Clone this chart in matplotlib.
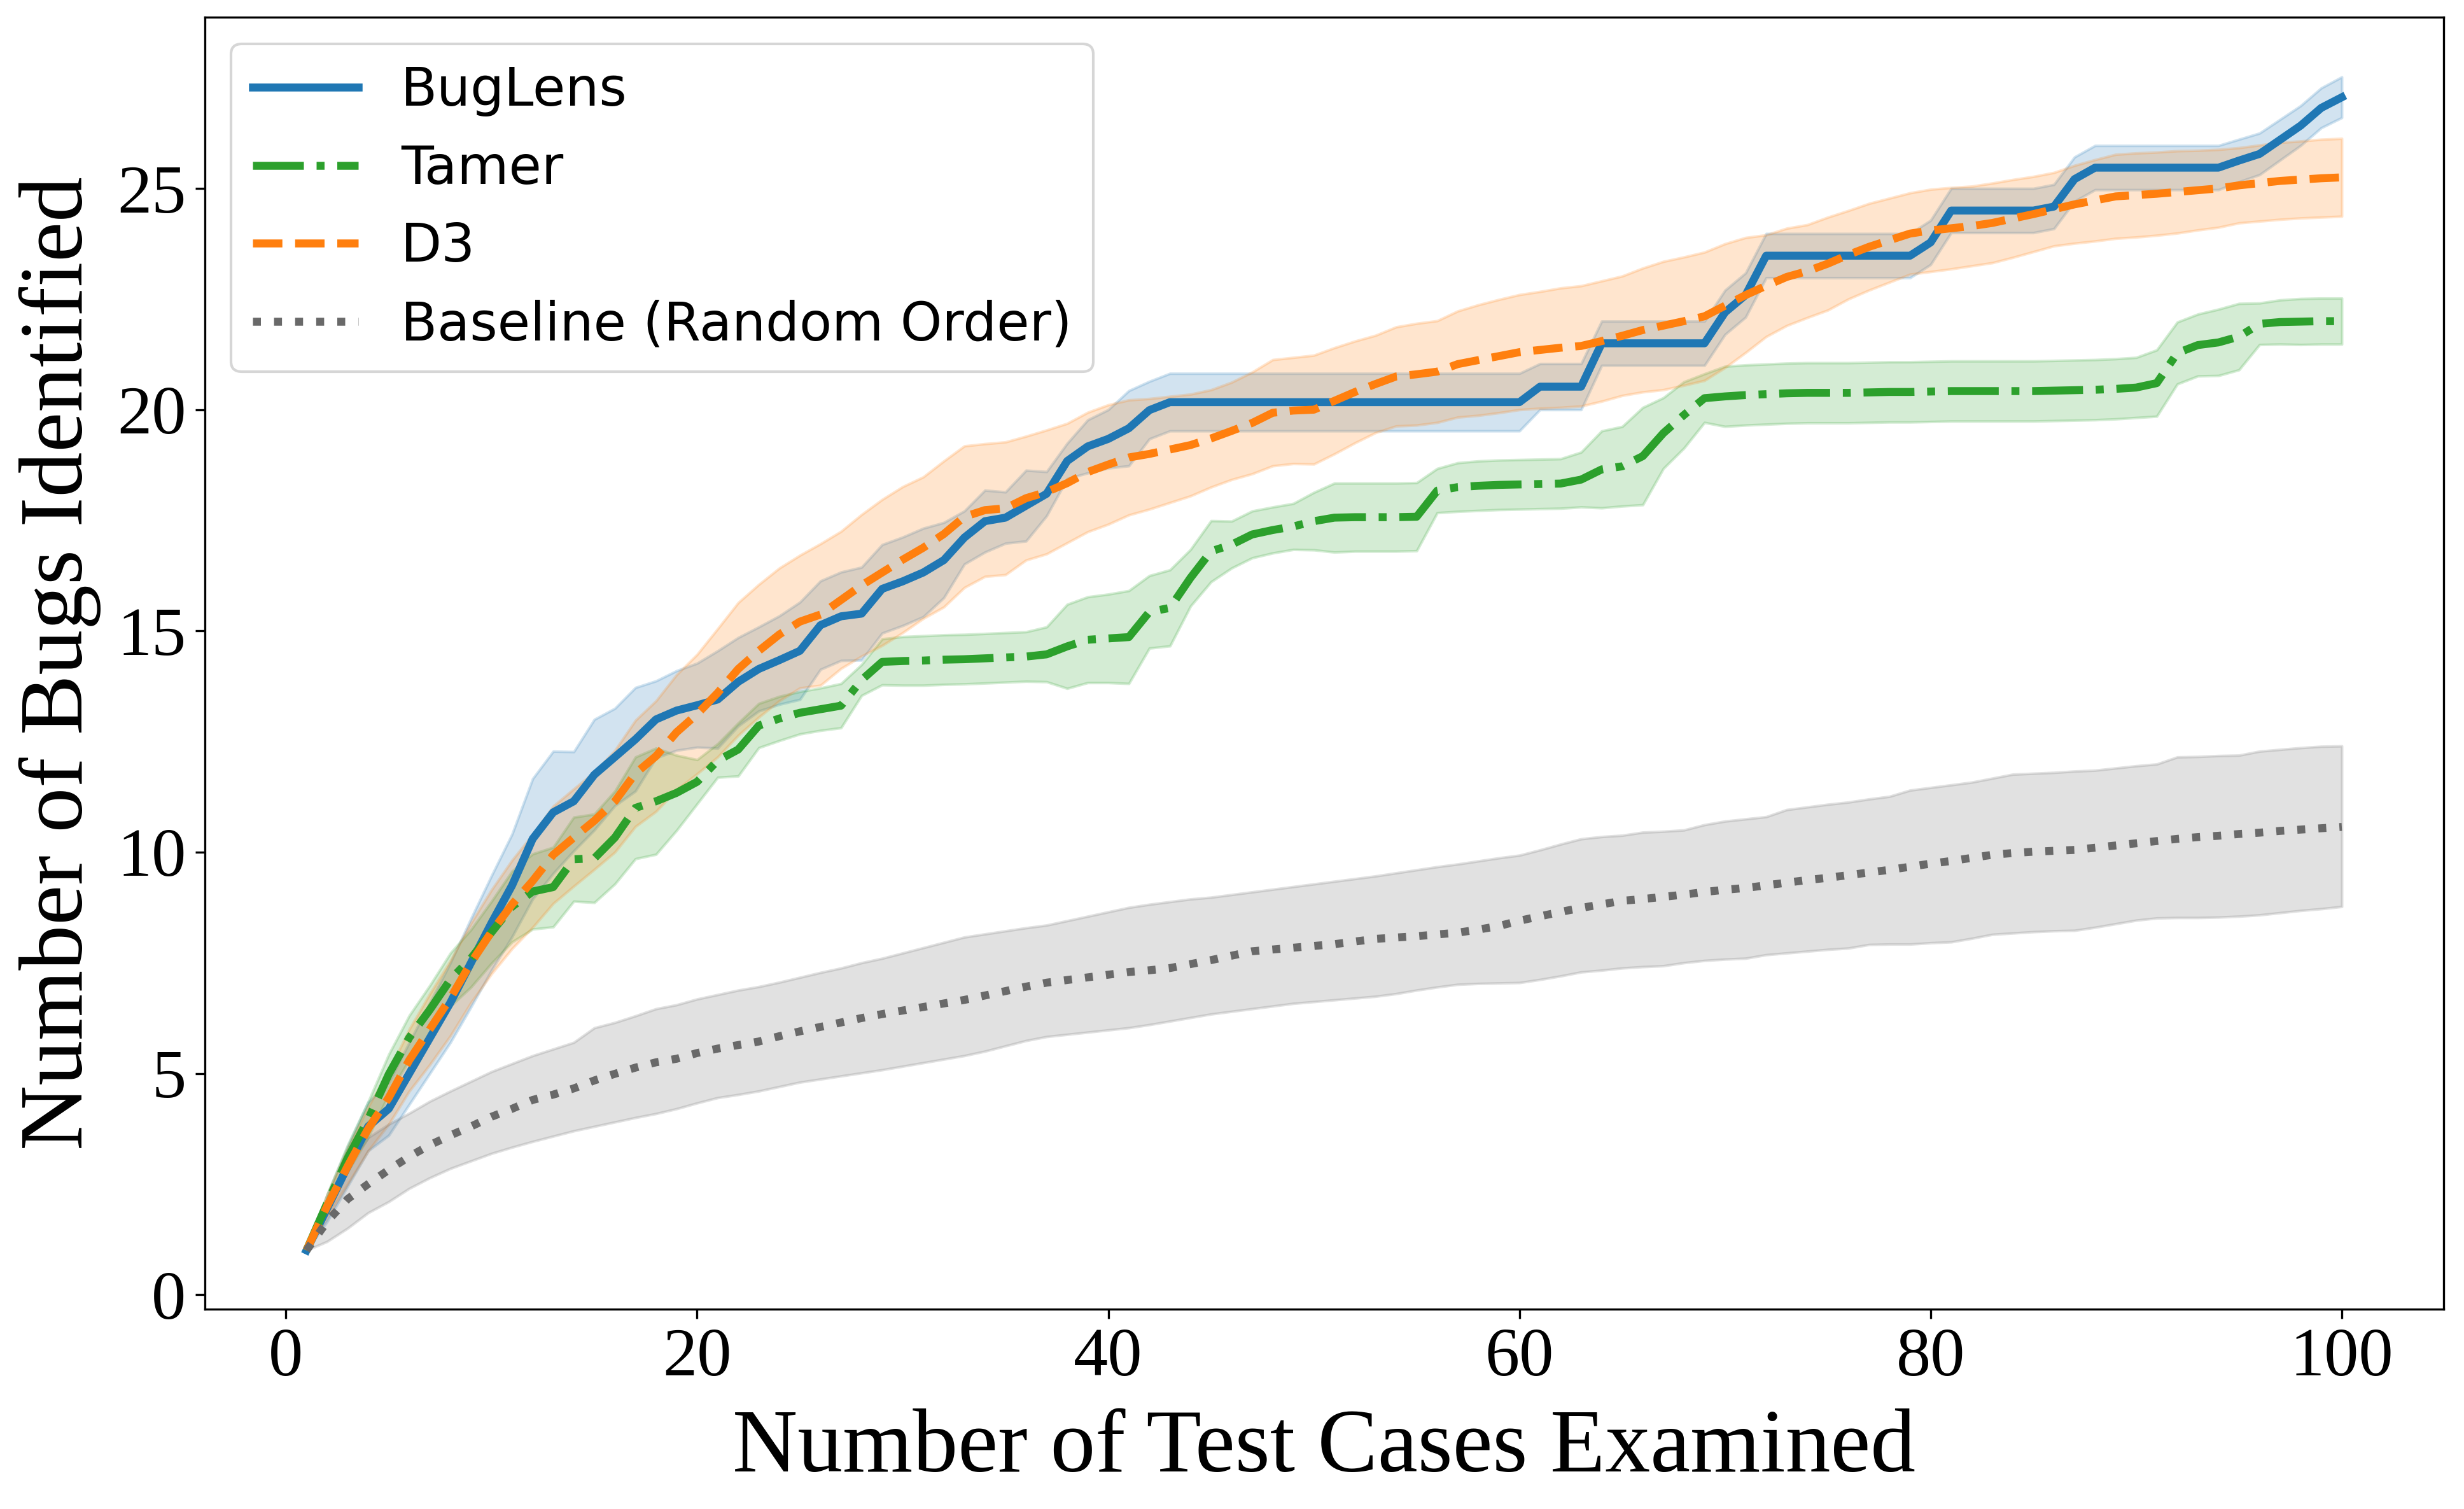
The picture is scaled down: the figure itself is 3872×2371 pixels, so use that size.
import numpy as np
import matplotlib
matplotlib.use("Agg")
import matplotlib.pyplot as plt

# test cases examined
steps = np.arange(1, 101)

# BugLens (mean / std)
buglens = [1.0, 1.95, 2.9, 3.8, 4.2, 5.0, 5.8, 6.6, 7.5, 8.4,
           9.25, 10.3, 10.9, 11.15, 11.75, 12.15, 12.55, 13.0, 13.2, 13.32,
           13.45, 13.85, 14.14, 14.34, 14.55, 15.13, 15.33, 15.39, 15.95, 16.12,
           16.32, 16.6, 17.11, 17.48, 17.56, 17.83, 18.1, 18.84, 19.17, 19.34,
           19.58, 19.99, 20.17, 20.17, 20.17, 20.17, 20.17, 20.17, 20.17, 20.17,
           20.17, 20.17, 20.17, 20.17, 20.17, 20.17, 20.17, 20.17, 20.17, 20.17,
           20.52, 20.52, 20.52, 21.5, 21.5, 21.5, 21.5, 21.5, 21.5, 22.2,
           22.59, 23.48, 23.48, 23.48, 23.48, 23.48, 23.48, 23.48, 23.48, 23.78,
           24.5, 24.5, 24.5, 24.5, 24.5, 24.59, 25.21, 25.47, 25.47, 25.47,
           25.47, 25.47, 25.47, 25.47, 25.63, 25.78, 26.1, 26.42, 26.82, 27.06]
buglens_std = [0.0, 0.3, 0.45, 0.55, 0.6, 0.7, 0.8, 0.9, 1.0, 1.07,
               1.16, 1.36, 1.38, 1.12, 1.25, 1.1, 1.17, 0.87, 0.9, 0.95,
               1.1, 1.0, 0.95, 1.0, 1.1, 1.0, 1.0, 1.05, 1.0, 1.0,
               1.0, 0.85, 0.6, 0.7, 0.58, 0.8, 0.5, 0.4, 0.6, 0.66,
               0.85, 0.65, 0.65, 0.65, 0.65, 0.65, 0.65, 0.65, 0.65, 0.65,
               0.65, 0.65, 0.65, 0.65, 0.65, 0.65, 0.65, 0.65, 0.65, 0.65,
               0.52, 0.52, 0.52, 0.5, 0.5, 0.5, 0.5, 0.5, 0.5, 0.5,
               0.5, 0.5, 0.5, 0.5, 0.5, 0.5, 0.5, 0.5, 0.5, 0.5,
               0.5, 0.5, 0.5, 0.5, 0.5, 0.5, 0.5, 0.5, 0.5, 0.5,
               0.5, 0.5, 0.5, 0.5, 0.48, 0.47, 0.46, 0.45, 0.45, 0.46]

# Tamer
tamer = [1.0, 2.06, 3.08, 3.96, 4.98, 5.81, 6.44, 7.12, 7.6, 8.19,
         8.77, 9.11, 9.21, 9.84, 9.86, 10.33, 11.0, 11.15, 11.34, 11.59,
         12.07, 12.32, 12.86, 13.02, 13.15, 13.23, 13.31, 13.89, 14.3, 14.32,
         14.33, 14.35, 14.36, 14.38, 14.4, 14.42, 14.47, 14.65, 14.8, 14.83,
         14.86, 15.43, 15.52, 16.2, 16.8, 16.95, 17.18, 17.28, 17.36, 17.48,
         17.56, 17.57, 17.57, 17.57, 17.58, 18.17, 18.25, 18.28, 18.3, 18.31,
         18.32, 18.33, 18.42, 18.65, 18.72, 18.95, 19.47, 19.88, 20.26, 20.3,
         20.33, 20.35, 20.37, 20.38, 20.38, 20.38, 20.39, 20.4, 20.4, 20.41,
         20.42, 20.42, 20.42, 20.42, 20.42, 20.43, 20.44, 20.45, 20.47, 20.5,
         20.6, 21.28, 21.46, 21.52, 21.65, 21.94, 21.98, 21.99, 22.0, 22.0]
tamer_std = [0.0, 0.2, 0.3, 0.4, 0.45, 0.5, 0.55, 0.6, 0.65, 0.7,
             0.8, 0.85, 0.9, 0.95, 1.0, 1.05, 1.15, 1.2, 0.85, 0.5,
             0.38, 0.6, 0.5, 0.5, 0.48, 0.48, 0.5, 0.35, 0.52, 0.55,
             0.56, 0.56, 0.56, 0.56, 0.56, 0.56, 0.62, 0.95, 0.97, 1.0,
             1.05, 0.82, 0.86, 0.64, 0.69, 0.53, 0.53, 0.52, 0.52, 0.65,
             0.78, 0.77, 0.77, 0.77, 0.77, 0.5, 0.55, 0.56, 0.56, 0.56,
             0.56, 0.56, 0.62, 0.87, 0.9, 1.1, 0.8, 0.75, 0.55, 0.68,
             0.68, 0.68, 0.68, 0.68, 0.68, 0.68, 0.68, 0.68, 0.68, 0.68,
             0.68, 0.68, 0.68, 0.68, 0.68, 0.68, 0.68, 0.68, 0.68, 0.68,
             0.75, 0.7, 0.7, 0.75, 0.75, 0.47, 0.5, 0.52, 0.52, 0.52]

# D3
d3 = [1.0, 2.0, 2.9, 3.75, 4.45, 5.3, 6.0, 6.7, 7.5, 8.2,
      8.82, 9.35, 9.94, 10.33, 10.71, 11.15, 11.78, 12.17, 12.71, 13.12,
      13.6, 14.14, 14.55, 14.92, 15.21, 15.37, 15.7, 16.03, 16.32, 16.61,
      16.88, 17.19, 17.58, 17.73, 17.77, 18.0, 18.14, 18.34, 18.59, 18.76,
      18.92, 19.0, 19.1, 19.2, 19.35, 19.52, 19.7, 19.93, 19.98, 20.0,
      20.2, 20.4, 20.58, 20.75, 20.8, 20.86, 21.03, 21.12, 21.21, 21.3,
      21.35, 21.4, 21.44, 21.55, 21.67, 21.8, 21.9, 22.0, 22.11, 22.35,
      22.59, 22.8, 23.0, 23.13, 23.3, 23.5, 23.68, 23.83, 23.98, 24.05,
      24.1, 24.15, 24.22, 24.32, 24.42, 24.53, 24.64, 24.73, 24.82, 24.85,
      24.88, 24.92, 24.96, 25.0, 25.07, 25.12, 25.17, 25.2, 25.23, 25.25]
d3_std = [0.0, 0.25, 0.4, 0.5, 0.6, 0.7, 0.8, 0.85, 0.9, 0.95,
          1.0, 1.05, 1.1, 1.1, 1.1, 1.15, 1.2, 1.25, 1.3, 1.35,
          1.45, 1.5, 1.5, 1.5, 1.5, 1.6, 1.55, 1.6, 1.65, 1.65,
          1.6, 1.65, 1.6, 1.5, 1.5, 1.4, 1.4, 1.35, 1.35, 1.35,
          1.3, 1.25, 1.2, 1.15, 1.1, 1.1, 1.15, 1.2, 1.2, 1.23,
          1.2, 1.15, 1.1, 1.12, 1.15, 1.15, 1.2, 1.25, 1.28, 1.3,
          1.32, 1.35, 1.36, 1.36, 1.35, 1.4, 1.45, 1.45, 1.45, 1.4,
          1.3, 1.15, 1.1, 1.05, 1.05, 1.0, 0.98, 0.95, 0.92, 0.93,
          0.92, 0.9, 0.9, 0.88, 0.85, 0.83, 0.88, 0.92, 0.95, 0.95,
          0.94, 0.93, 0.9, 0.88, 0.85, 0.86, 0.87, 0.87, 0.88, 0.88]

# Baseline (random order): mean and band limits
baseline = [1.0, 1.65, 2.16, 2.5, 2.82, 3.12, 3.38, 3.6, 3.8, 4.02,
            4.2, 4.4, 4.52, 4.66, 4.84, 4.99, 5.13, 5.25, 5.33, 5.46,
            5.56, 5.64, 5.72, 5.84, 5.95, 6.05, 6.15, 6.25, 6.34, 6.42,
            6.5, 6.58, 6.66, 6.76, 6.86, 6.96, 7.05, 7.11, 7.17, 7.23,
            7.29, 7.33, 7.38, 7.47, 7.56, 7.66, 7.76, 7.8, 7.84, 7.88,
            7.92, 7.98, 8.04, 8.07, 8.1, 8.14, 8.18, 8.25, 8.33, 8.45,
            8.55, 8.65, 8.74, 8.82, 8.9, 8.94, 8.99, 9.04, 9.1, 9.15,
            9.19, 9.25, 9.31, 9.37, 9.42, 9.48, 9.54, 9.6, 9.67, 9.74,
            9.8, 9.87, 9.94, 9.98, 10.01, 10.03, 10.05, 10.1, 10.15, 10.2,
            10.25, 10.3, 10.34, 10.37, 10.41, 10.44, 10.48, 10.51, 10.54, 10.57]
baseline_hi = [1.0, 2.1, 2.9, 3.55, 3.85, 4.1, 4.37, 4.6, 4.82, 5.04,
               5.22, 5.4, 5.55, 5.7, 6.03, 6.15, 6.3, 6.46, 6.55, 6.68,
               6.78, 6.88, 6.96, 7.06, 7.17, 7.28, 7.38, 7.5, 7.6, 7.72,
               7.84, 7.96, 8.08, 8.15, 8.22, 8.29, 8.35, 8.45, 8.55, 8.65,
               8.75, 8.82, 8.88, 8.94, 8.98, 9.04, 9.1, 9.16, 9.22, 9.28,
               9.34, 9.4, 9.46, 9.53, 9.6, 9.67, 9.73, 9.8, 9.87, 9.93,
               10.05, 10.18, 10.3, 10.35, 10.38, 10.45, 10.47, 10.5, 10.62, 10.7,
               10.75, 10.8, 10.96, 11.02, 11.08, 11.13, 11.2, 11.26, 11.4, 11.46,
               11.52, 11.58, 11.67, 11.76, 11.78, 11.8, 11.83, 11.85, 11.9, 11.95,
               11.99, 12.15, 12.16, 12.18, 12.19, 12.28, 12.32, 12.36, 12.39, 12.4]
baseline_lo = [1.0, 1.2, 1.5, 1.85, 2.1, 2.4, 2.64, 2.85, 3.02, 3.19,
               3.33, 3.46, 3.58, 3.7, 3.8, 3.9, 4.0, 4.09, 4.2, 4.33,
               4.45, 4.52, 4.6, 4.7, 4.8, 4.87, 4.94, 5.01, 5.08, 5.16,
               5.24, 5.32, 5.4, 5.5, 5.62, 5.74, 5.83, 5.88, 5.93, 5.98,
               6.03, 6.1, 6.18, 6.26, 6.34, 6.4, 6.46, 6.52, 6.58, 6.62,
               6.66, 6.7, 6.74, 6.8, 6.88, 6.95, 7.01, 7.03, 7.04, 7.05,
               7.12, 7.2, 7.29, 7.33, 7.38, 7.41, 7.43, 7.5, 7.55, 7.58,
               7.6, 7.68, 7.72, 7.76, 7.8, 7.83, 7.91, 7.92, 7.92, 7.95,
               7.97, 8.05, 8.14, 8.17, 8.2, 8.22, 8.23, 8.3, 8.38, 8.46,
               8.51, 8.52, 8.52, 8.53, 8.55, 8.58, 8.63, 8.68, 8.72, 8.77]

serif = ["Liberation Serif", "DejaVu Serif"]

fig, ax = plt.subplots(figsize=(3872 / 300, 2371 / 300), dpi=300)
fig.subplots_adjust(left=0.0831, right=0.9917, bottom=0.1324, top=0.9886)

lw = 3
b = np.array(buglens); bs = np.array(buglens_std)
t = np.array(tamer); ts = np.array(tamer_std)
d = np.array(d3); ds = np.array(d3_std)

ax.plot(steps, b, color="#1f77b4", linestyle="-", lw=lw, label="BugLens")
ax.fill_between(steps, b - bs, b + bs, color="#1f77b4", alpha=0.2)

ax.plot(steps, t, color="#2ca02c", linestyle="-.", lw=lw, label="Tamer")
ax.fill_between(steps, t - ts, t + ts, color="#2ca02c", alpha=0.2)

ax.plot(steps, d, color="#ff7f0e", linestyle="--", lw=lw, label="D3")
ax.fill_between(steps, d - ds, d + ds, color="#ff7f0e", alpha=0.2)

ax.plot(steps, baseline, color="dimgray", linestyle=":", lw=lw,
        label="Baseline (Random Order)")
ax.fill_between(steps, baseline_lo, baseline_hi, color="dimgray", alpha=0.2)

ax.set_xlim(-3.95, 104.95)
ax.set_ylim(-0.33, 28.87)
ax.set_xticks([0, 20, 40, 60, 80, 100])
ax.set_yticks([0, 5, 10, 15, 20, 25])

ax.set_xlabel("Number of Test Cases Examined", fontsize=34, family=serif, labelpad=7)
ax.set_ylabel("Number of Bugs Identified", fontsize=34, family=serif, labelpad=6)
for lab in ax.get_xticklabels() + ax.get_yticklabels():
    lab.set_family(serif)
    lab.set_fontsize(26)

ax.legend(loc="upper left", prop={"family": "DejaVu Sans", "size": 20})

fig.savefig("out.png", dpi=300)
